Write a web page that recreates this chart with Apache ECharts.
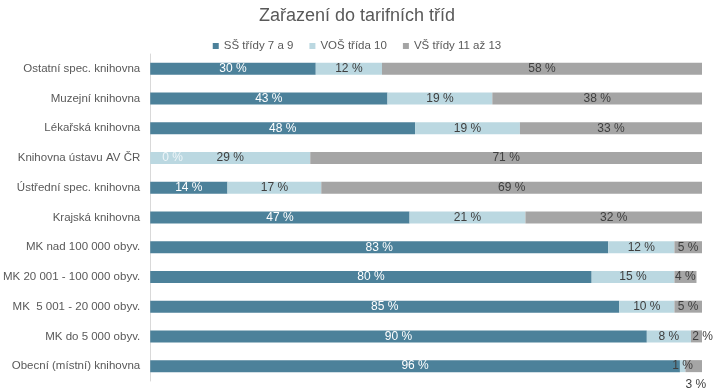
<!DOCTYPE html>
<html><head><meta charset="utf-8">
<script src="https://cdn.jsdelivr.net/npm/echarts@6/dist/echarts.min.js"></script>
<style>html,body{margin:0;padding:0;background:#fff}#c{width:714px;height:392px}</style>
</head><body><div id="c"></div>
<script>
const categories = ["Ostatní spec. knihovna","Muzejní knihovna","Lékařská knihovna","Knihovna ústavu AV ČR","Ústřední spec. knihovna","Krajská knihovna","MK nad 100 000 obyv.","MK 20 001 - 100 000 obyv.","MK  5 001 - 20 000 obyv.","MK do 5 000 obyv.","Obecní (místní) knihovna"];
const seriesNames = ["SŠ třídy 7 a 9","VOŠ třída 10","VŠ třídy 11 až 13"];
const ss = [30,43,48,0,14,47,83,80,85,90,96];
const vos = [12,19,19,29,17,21,12,15,10,8,1];
const vs = [58,38,33,71,69,32,5,4,5,2,3];

const cats = categories.slice().reverse();
const rev = a => a.slice().reverse();
const FONT = "'Liberation Sans', Arial, sans-serif";
const colors = ['#4C819A','#BBD8E1','#A5A5A5'];

function mk(vals, name, idx, labelColor, overrides) {
  const data = rev(vals).map((v, i) => {
    const o = overrides[cats[i]];
    return o ? {value: v, label: o} : v;
  });
  return {
    name, type: 'bar', stack: 'a', barWidth: 12, data,
    itemStyle: {color: colors[idx]},
    label: {show: true, position: 'inside', formatter: p => p.value + ' %',
      color: labelColor, fontFamily: FONT, fontSize: 12},
    emphasis: {disabled: true}
  };
}

const chart = echarts.init(document.getElementById('c'));
chart.setOption({
  animation: false,
  title: {text: 'Zařazení do tarifních tříd', left: 'center', top: 2,
    textStyle: {fontFamily: FONT, fontSize: 18, fontWeight: 'normal', color: '#595959'}},
  legend: {top: 35, left: 'center', itemWidth: 6, itemHeight: 6, itemGap: 16,
    icon: 'rect', textStyle: {fontFamily: FONT, fontSize: 11.5, color: '#595959'},
    data: seriesNames},
  grid: {left: 147, right: 12, top: 54, bottom: 11, containLabel: false},
  xAxis: {type: 'value', min: 0, max: 100, show: false},
  yAxis: {type: 'category', data: cats,
    axisLine: {show: true, lineStyle: {color: '#D9D9D9'}},
    axisTick: {show: false},
    axisLabel: {fontFamily: FONT, fontSize: 11.5, color: '#595959', margin: 10}},
  series: [
    mk(ss, seriesNames[0], 0, '#ffffff', {
      'Knihovna ústavu AV ČR': {position: 'insideLeft', distance: 12, color: '#eef5f8'}
    }),
    mk(vos, seriesNames[1], 1, '#404040', {
      'Obecní (místní) knihovna': {position: 'inside', offset: [0, 0]}
    }),
    mk(vs, seriesNames[2], 2, '#404040', {
      'MK do 5 000 obyv.': {position: 'inside', offset: [6, 0]},
      'Obecní (místní) knihovna': {position: 'bottom', distance: 7, offset: [2, 0]}
    })
  ]
});
</script></body></html>
